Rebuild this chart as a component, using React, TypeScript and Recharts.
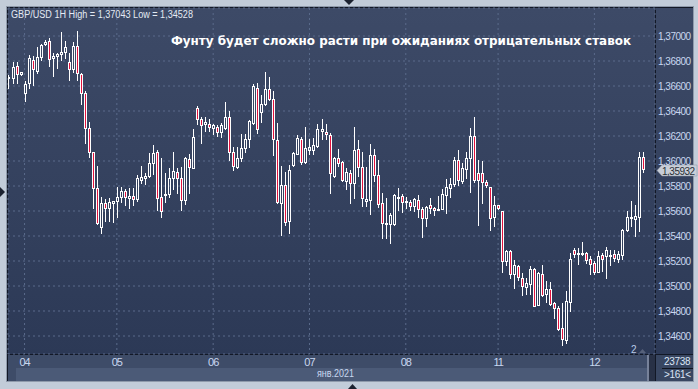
import React from 'react';
import { ComposedChart, Bar, XAxis, YAxis, CartesianGrid, ReferenceLine } from 'recharts';

// GBP/USD hourly candles
const opens = [
  1.36661, 1.36667, 1.36763, 1.36693, 1.36541, 1.36621, 1.36805, 1.36723, 1.36829, 1.36933,
  1.36963, 1.36821, 1.36843, 1.36853, 1.36869, 1.36795, 1.36733, 1.36923, 1.36693, 1.36541,
  1.36267, 1.36069, 1.35781, 1.35475, 1.35661, 1.35627, 1.35661, 1.35683, 1.35715, 1.3576,
  1.35707, 1.35717, 1.35693, 1.35851, 1.35861, 1.35883, 1.35987, 1.36069, 1.35712, 1.35725,
  1.35739, 1.35861, 1.35915, 1.35861, 1.35688, 1.36013, 1.35947, 1.36421, 1.36333, 1.36299,
  1.36299, 1.36267, 1.36275, 1.36235, 1.36267, 1.36355, 1.36075, 1.35955, 1.36021, 1.36107,
  1.36173, 1.36301, 1.36587, 1.36395, 1.36459, 1.36573, 1.36493, 1.36165, 1.35667, 1.35805,
  1.3552, 1.35968, 1.36059, 1.36173, 1.35995, 1.36088, 1.36088, 1.3612, 1.3624, 1.36235,
  1.36208, 1.3588, 1.36021, 1.35995, 1.35843, 1.35901, 1.35821, 1.36096, 1.35949, 1.35683,
  1.35688, 1.36048, 1.35888, 1.35661, 1.35496, 1.35496, 1.35496, 1.35709, 1.3572, 1.35669,
  1.35669, 1.35643, 1.35688, 1.35616, 1.35541, 1.35648, 1.35621, 1.35608, 1.35616, 1.35728,
  1.35781, 1.35816, 1.36008, 1.35843, 1.35936, 1.36021, 1.362, 1.35901, 1.35907, 1.35829,
  1.35795, 1.35549, 1.35645, 1.35597, 1.35197, 1.35283, 1.35099, 1.35163, 1.35064, 1.34989,
  1.35016, 1.35139, 1.34845, 1.35099, 1.34939, 1.34979, 1.34864, 1.34824, 1.34664, 1.34565,
  1.34869, 1.35291, 1.35256, 1.35259, 1.35264, 1.35219, 1.35184, 1.35112, 1.35251, 1.35237,
  1.35243, 1.35256, 1.35219, 1.35251, 1.35445, 1.35541, 1.35536, 1.35549, 1.36032,
];

const highs = [
  1.36688, 1.36795, 1.36789, 1.36715, 1.3664, 1.36848, 1.36843, 1.36915, 1.36933, 1.36968,
  1.36981, 1.36861, 1.36867, 1.37029, 1.3696, 1.36861, 1.36955, 1.37043, 1.36705, 1.3656,
  1.36315, 1.36075, 1.3596, 1.35715, 1.35696, 1.35701, 1.35683, 1.35795, 1.35789, 1.35776,
  1.35781, 1.35781, 1.35888, 1.3596, 1.35901, 1.36061, 1.36128, 1.36088, 1.36021, 1.35901,
  1.35947, 1.36075, 1.35947, 1.35952, 1.36035, 1.36053, 1.36253, 1.3644, 1.36355, 1.36355,
  1.36339, 1.36293, 1.3629, 1.36301, 1.36475, 1.364, 1.36115, 1.36115, 1.36213, 1.36213,
  1.3633, 1.36613, 1.36621, 1.36525, 1.36715, 1.36675, 1.3656, 1.36301, 1.3596, 1.35915,
  1.35965, 1.36075, 1.36205, 1.36195, 1.36275, 1.36173, 1.36181, 1.36293, 1.36339, 1.36293,
  1.36221, 1.36029, 1.36093, 1.36, 1.35941, 1.35928, 1.36269, 1.36168, 1.36075, 1.35949,
  1.36136, 1.36093, 1.36008, 1.35741, 1.35701, 1.35581, 1.35733, 1.35781, 1.35736, 1.35709,
  1.35688, 1.35707, 1.35728, 1.35635, 1.3564, 1.35701, 1.35635, 1.3572, 1.35773, 1.35853,
  1.35861, 1.36035, 1.36088, 1.35981, 1.36075, 1.36261, 1.36355, 1.36008, 1.36, 1.35848,
  1.35795, 1.35723, 1.35651, 1.35603, 1.35291, 1.35291, 1.35211, 1.35168, 1.35104, 1.35064,
  1.35157, 1.35144, 1.35109, 1.35171, 1.35037, 1.35029, 1.34875, 1.34837, 1.34864, 1.34957,
  1.35264, 1.35304, 1.35304, 1.35352, 1.35269, 1.35237, 1.35197, 1.35283, 1.35264, 1.35312,
  1.35285, 1.35285, 1.35277, 1.35456, 1.35597, 1.35683, 1.35651, 1.36072, 1.36069,
];

const lows = [
  1.36587, 1.36621, 1.36621, 1.36688, 1.3648, 1.36581, 1.36608, 1.36707, 1.36808, 1.36928,
  1.36763, 1.36683, 1.36741, 1.36808, 1.36821, 1.36648, 1.36715, 1.36648, 1.36456, 1.36147,
  1.36029, 1.35621, 1.35493, 1.35421, 1.3552, 1.3552, 1.35515, 1.35555, 1.35675, 1.35648,
  1.35621, 1.35648, 1.35683, 1.35821, 1.35813, 1.35875, 1.35893, 1.35608, 1.35549, 1.35672,
  1.35712, 1.35773, 1.35747, 1.35608, 1.35653, 1.35747, 1.35947, 1.36293, 1.36147, 1.3624,
  1.3624, 1.36213, 1.362, 1.36195, 1.36259, 1.36008, 1.35925, 1.35941, 1.36, 1.36075,
  1.36115, 1.36293, 1.36221, 1.36312, 1.3645, 1.36488, 1.36048, 1.35661, 1.35408, 1.35488,
  1.35421, 1.3596, 1.36053, 1.35973, 1.35987, 1.36053, 1.36053, 1.36115, 1.36173, 1.36173,
  1.35741, 1.35869, 1.35963, 1.35843, 1.35776, 1.35661, 1.35701, 1.3588, 1.3564, 1.3564,
  1.35576, 1.35843, 1.35635, 1.35381, 1.35381, 1.35341, 1.35485, 1.35608, 1.35595, 1.35621,
  1.35608, 1.356, 1.35555, 1.35395, 1.3548, 1.35587, 1.35568, 1.35605, 1.35613, 1.35581,
  1.35715, 1.358, 1.35808, 1.35821, 1.35861, 1.35755, 1.35835, 1.35488, 1.35661, 1.35795,
  1.35448, 1.35477, 1.35616, 1.35109, 1.35171, 1.35064, 1.34984, 1.35051, 1.34925, 1.34939,
  1.34939, 1.34837, 1.34845, 1.34923, 1.34869, 1.34845, 1.34744, 1.34651, 1.34528, 1.34544,
  1.34797, 1.35232, 1.35179, 1.35251, 1.35184, 1.35096, 1.35099, 1.35109, 1.35117, 1.35064,
  1.35171, 1.35197, 1.35189, 1.35216, 1.3544, 1.35477, 1.35397, 1.35437, 1.35909,
];

const closes = [
  1.36675, 1.36755, 1.36693, 1.36709, 1.36613, 1.36827, 1.36733, 1.36829, 1.36928, 1.36955,
  1.36813, 1.3684, 1.36859, 1.36869, 1.36909, 1.36733, 1.36923, 1.36701, 1.36541, 1.36261,
  1.36075, 1.35781, 1.35501, 1.35661, 1.35627, 1.35669, 1.3568, 1.35709, 1.3576, 1.35709,
  1.3572, 1.35693, 1.35861, 1.35872, 1.35883, 1.35987, 1.36061, 1.35701, 1.356, 1.35739,
  1.35867, 1.3592, 1.35861, 1.35688, 1.36021, 1.35955, 1.36195, 1.36339, 1.36288, 1.36309,
  1.36272, 1.36285, 1.36235, 1.36285, 1.36355, 1.36075, 1.3596, 1.36027, 1.36107, 1.36173,
  1.3632, 1.366, 1.36253, 1.36453, 1.36579, 1.36499, 1.36173, 1.35672, 1.35805, 1.35512,
  1.35925, 1.36067, 1.36181, 1.35992, 1.36107, 1.36115, 1.36125, 1.36253, 1.36253, 1.36213,
  1.35901, 1.36021, 1.35981, 1.35848, 1.35915, 1.35821, 1.36088, 1.35955, 1.35701, 1.35693,
  1.36048, 1.35888, 1.35656, 1.35501, 1.35507, 1.35568, 1.35728, 1.35715, 1.35669, 1.3568,
  1.35643, 1.35693, 1.35616, 1.35541, 1.35635, 1.35627, 1.35608, 1.35616, 1.35736, 1.35789,
  1.35816, 1.36008, 1.35848, 1.35941, 1.36021, 1.362, 1.35848, 1.35848, 1.35829, 1.35808,
  1.35541, 1.35651, 1.35624, 1.35197, 1.35283, 1.35096, 1.35171, 1.35069, 1.34997, 1.35024,
  1.35139, 1.34837, 1.35104, 1.34931, 1.34979, 1.34859, 1.34824, 1.34656, 1.34576, 1.34877,
  1.35216, 1.35259, 1.35264, 1.35264, 1.35211, 1.35176, 1.35109, 1.35243, 1.35219, 1.35291,
  1.35251, 1.35224, 1.35259, 1.35451, 1.35549, 1.35549, 1.35563, 1.36032, 1.35932,
];

// candle index where each trading day starts, and its label
const dayTicks = [5, 28, 52, 76, 100, 123, 147];
const dayLabels = ['04', '05', '06', '07', '08', '11', '12'];

const priceTicks = [
  1.346, 1.348, 1.35, 1.352, 1.354, 1.356, 1.358, 1.36, 1.362, 1.364, 1.366, 1.368, 1.37,
];

const lastPrice = 1.35932;

const data = opens.map((o, k) => ({
  i: k + 1,
  open: o,
  high: highs[k],
  low: lows[k],
  close: closes[k],
  range: [lows[k], highs[k]],
}));

const RED = '#e2123d';
const TXT = '#c8d7f0';
const FONT = '"Liberation Sans", Arial, sans-serif';

const fmt = (v: number) => v.toFixed(5).replace('.', ',');

function Candle(props: any) {
  const { x, y, width, height, payload } = props;
  if (x == null || y == null || !payload) return null;
  const { open, close, high, low } = payload;
  const top = Math.min(y, y + height);
  const bot = Math.max(y, y + height);
  const span = high - low || 1e-9;
  const toY = (v: number) => top + ((high - v) / span) * (bot - top);
  const px = Math.floor(x + width / 2);
  const yH = Math.round(top);
  const yL = Math.round(bot);
  const yO = Math.round(toY(open));
  const yC = Math.round(toY(close));
  const bt = Math.min(yO, yC);
  let bb = Math.max(yO, yC);
  if (bb - bt < 1) bb = bt + 1;
  const up = close >= open;
  return (
    <g>
      {yH < bt && <line x1={px + 0.5} x2={px + 0.5} y1={yH} y2={bt} stroke="#fff" />}
      {yL > bb && <line x1={px + 0.5} x2={px + 0.5} y1={bb + 1} y2={yL + 1} stroke="#fff" />}
      <rect x={px - 0.5} y={bt + 0.5} width={2} height={bb - bt} fill={up ? 'none' : RED} stroke="#fff" />
    </g>
  );
}

function YTick({ x, y, payload }: any) {
  return (
    <text x={x} y={y + 3.5} fill={TXT} fontSize={10} fontFamily={FONT} letterSpacing={-0.5}>
      {fmt(payload.value)}
    </text>
  );
}

function XTick({ x, y, payload }: any) {
  const k = dayTicks.indexOf(payload.value);
  return (
    <text x={x} y={y + 12} textAnchor="middle" fill={TXT} fontSize={11} fontFamily={FONT} letterSpacing={-1}>
      {dayLabels[k]}
    </text>
  );
}

function PriceTag({ viewBox }: any) {
  if (!viewBox) return null;
  const xr = viewBox.x + viewBox.width;
  const cy = Math.round(viewBox.y) + 1.5;
  const pts = `${xr + 2},${cy} ${xr + 7},${cy - 5.5} ${xr + 42},${cy - 5.5} ${xr + 42},${cy + 5.5} ${xr + 7},${cy + 5.5}`;
  return (
    <g>
      <polygon points={pts} fill="#c8ced8" stroke="#8e97a6" strokeWidth={0.5} />
      <text x={xr + 7} y={cy + 4} fill="#2a2e36" fontSize={10} fontFamily={FONT} letterSpacing={-0.5}>
        {fmt(lastPrice)}
      </text>
    </g>
  );
}

const abs = (l: number, t: number, w: number, h: number, bg: string): React.CSSProperties => ({
  position: 'absolute',
  left: l,
  top: t,
  width: w,
  height: h,
  background: bg,
});

const PANEL = 'linear-gradient(#3d4a67, #2c3956)';

export default function App() {
  return (
    <div style={{ position: 'absolute', left: 0, top: 0, width: 698, height: 389, background: '#c2ccd9', overflow: 'hidden' }}>
      <div style={abs(6, 6, 688, 376, '#8f9aab')} />
      <div style={abs(7, 7, 686, 374, '#121826')} />
      <div style={abs(8, 8, 647, 346, PANEL)} />
      <div style={abs(656, 8, 37, 346, PANEL)} />
      <div style={abs(8, 355, 647, 26, '#3e4c68')} />
      <div style={abs(16, 368, 631, 13, '#4b5a77')} />
      <div style={abs(656, 355, 37, 26, '#384661')} />
      <div style={abs(647, 355, 2, 26, '#77829a')} />
      <div style={abs(649, 355, 6, 26, '#283146')} />

      <div style={{ position: 'absolute', left: 0, top: 0 }}>
        <ComposedChart width={698} height={389} data={data} margin={{ top: 8, right: 0, bottom: 21, left: 8 }}>
          <CartesianGrid stroke="#5b6b8b" strokeDasharray="2 3" />
          <XAxis
            dataKey="i"
            type="number"
            domain={[0.8754, 162.1]}
            ticks={dayTicks}
            height={14}
            tickSize={0}
            tickMargin={0}
            axisLine={false}
            tickLine={false}
            tick={<XTick />}
            allowDataOverflow
          />
          <YAxis
            orientation="right"
            width={43}
            domain={[1.34456, 1.37224]}
            ticks={priceTicks}
            tickSize={0}
            tickMargin={3}
            axisLine={false}
            tickLine={false}
            tick={<YTick />}
            allowDataOverflow
          />
          <Bar dataKey="range" barSize={3} isAnimationActive={false} shape={(p: any) => <Candle {...p} />} />
          <ReferenceLine y={lastPrice} strokeOpacity={0} ifOverflow="visible" label={<PriceTag />} />
        </ComposedChart>
      </div>

      <svg width={698} height={389} style={{ position: 'absolute', left: 0, top: 0, pointerEvents: 'none' }}>
        <text x={11} y={18} fill="#e4eaf3" fontSize={10} fontFamily={FONT} textLength={182} lengthAdjust="spacingAndGlyphs">
          GBP/USD 1H High = 1,37043 Low = 1,34528
        </text>
        <text x={171} y={45} fill="#ffffff" fontSize={12} fontWeight="bold" fontFamily='"DejaVu Sans", sans-serif' textLength={460} lengthAdjust="spacingAndGlyphs">
          Фунту будет сложно расти при ожиданиях отрицательных ставок
        </text>
        <polygon points="344,0 354,0 349,5" fill="#1c2230" />
        <polygon points="348,389 357,389 352.5,384" fill="#1c2230" />
        <polygon points="0,187 5,192 0,197" fill="#1c2230" />
        <text x={631} y={353} fill="#b9cbe8" fontSize={10} fontFamily={FONT}>2</text>
        <polygon points="639,353 646,353 642.5,349" fill="#56617a" />
        <text x={317} y={377} fill={TXT} fontSize={10} fontFamily={FONT} textLength={37} lengthAdjust="spacingAndGlyphs">
          янв.2021
        </text>
        <text x={664} y={365} fill="#dbe5f5" fontSize={10} fontFamily={FONT} letterSpacing={-0.3}>23738</text>
        <line x1={662} x2={693} y1={368.5} y2={368.5} stroke="#10151f" />
        <text x={664} y={378} fill="#dbe5f5" fontSize={10} fontFamily={FONT} letterSpacing={-0.3}>&gt;161&lt;</text>
      </svg>
    </div>
  );
}
